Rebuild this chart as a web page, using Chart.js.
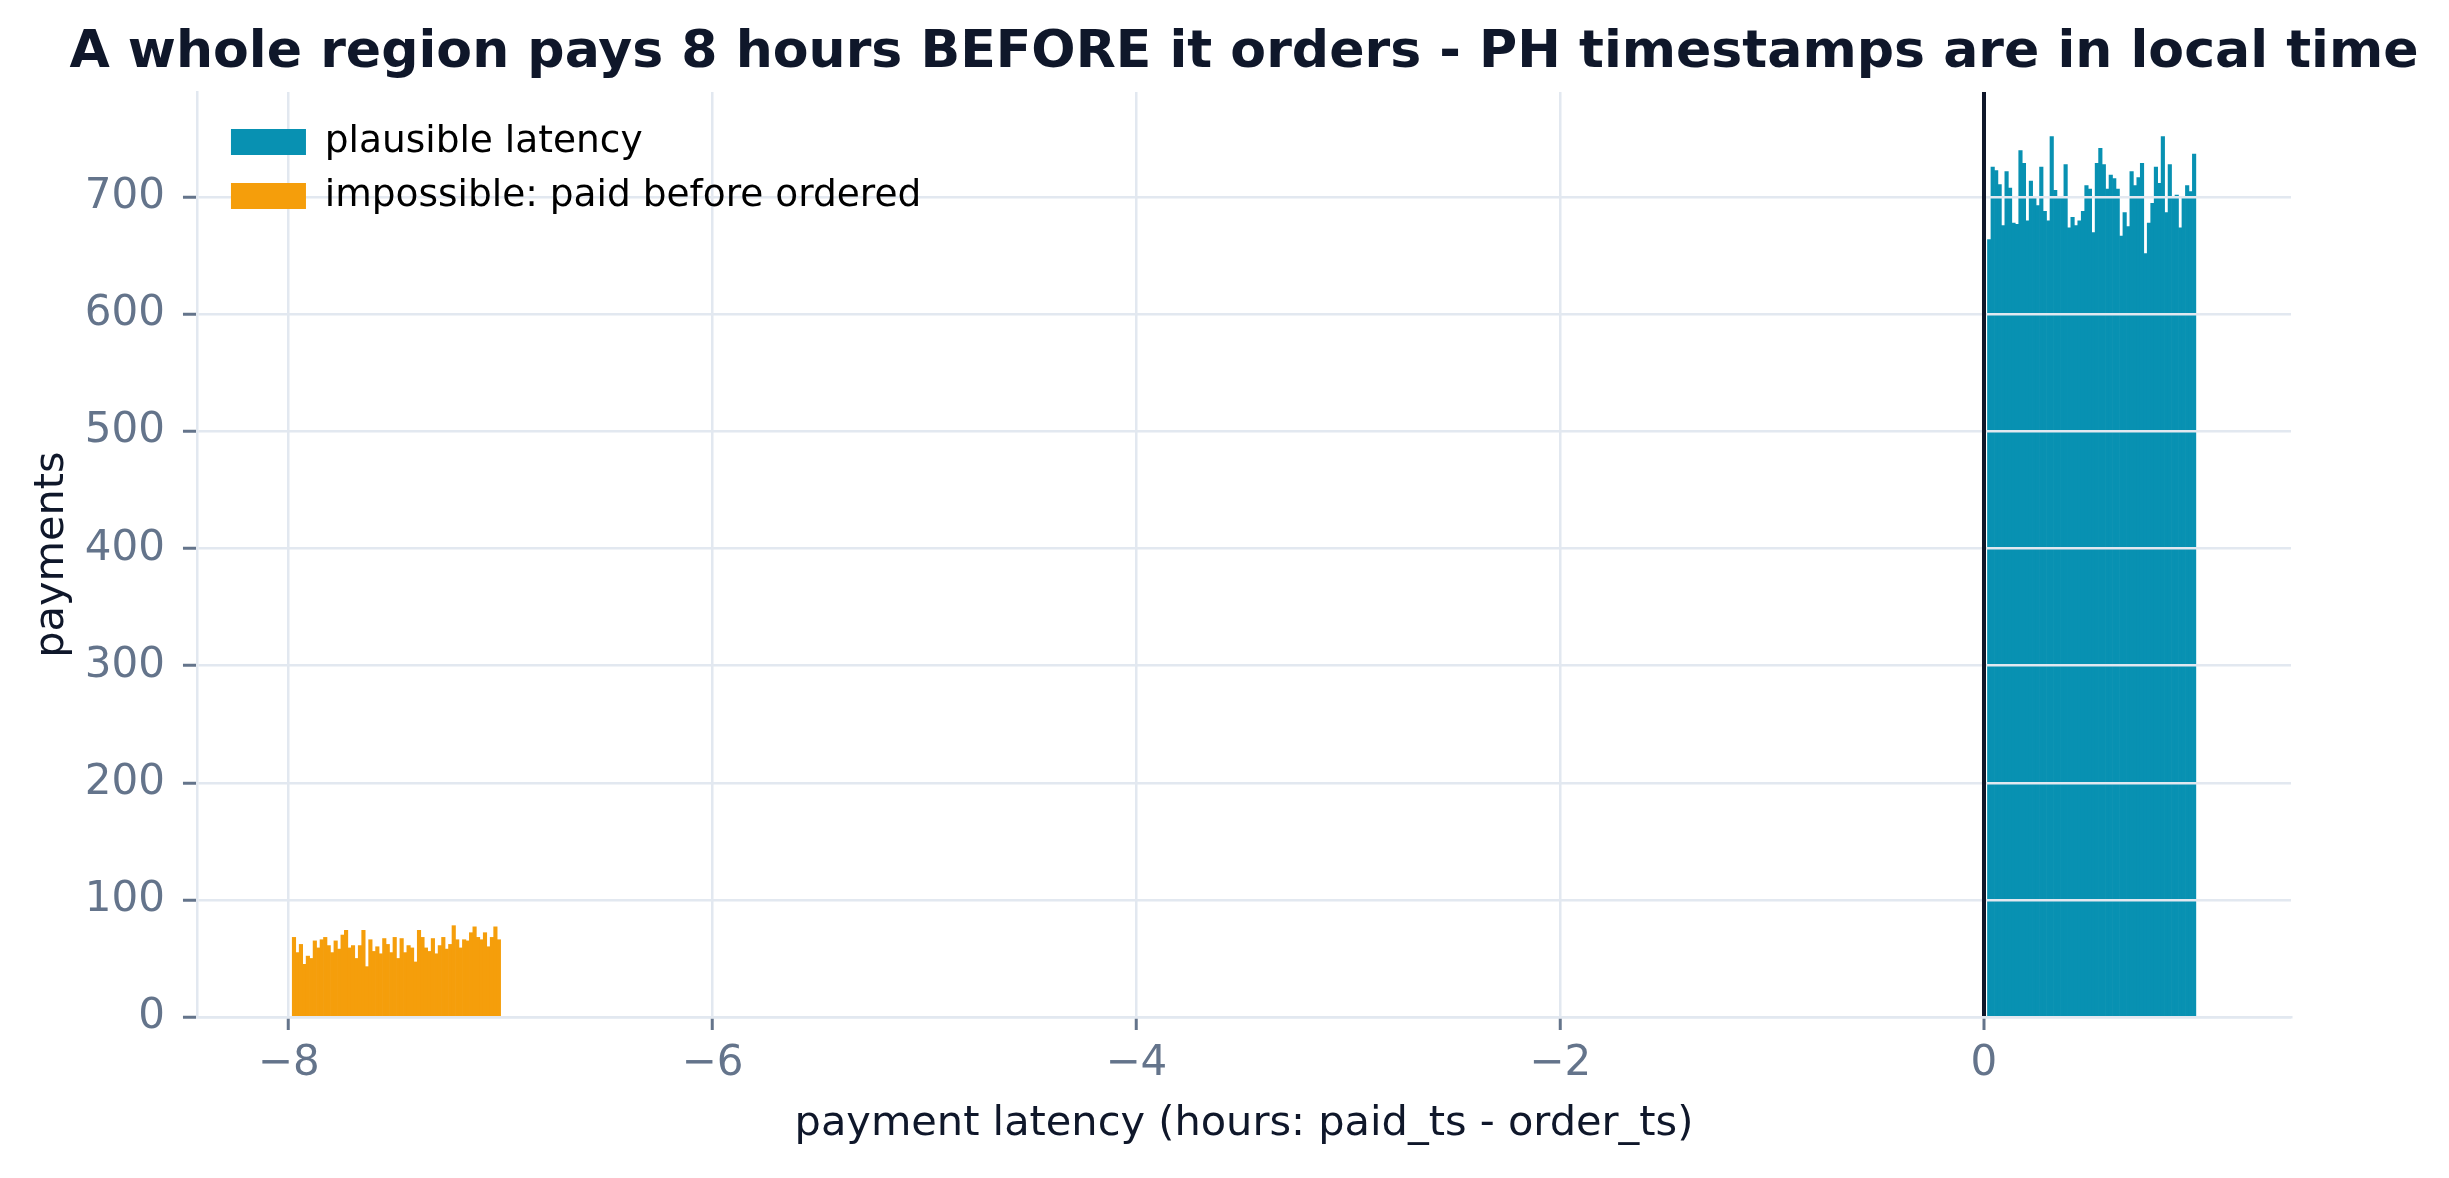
<!DOCTYPE html>
<html lang="en">
<head>
<meta charset="UTF-8">
<title>Payment latency histogram</title>
<script src="https://cdn.jsdelivr.net/npm/chart.js"></script>
<style>
  html, body { margin: 0; padding: 0; background: #ffffff; }
  #latencyChart { display: block; }
</style>
</head>
<body>
<canvas id="latencyChart" width="2449" height="1178"></canvas>
<script>
// payments per bin, 60 bins per hour of latency
const plausibleCounts = [
  664, 726, 723, 711, 676, 722, 708, 678, 677, 740,
  729, 680, 714, 700, 693, 726, 688, 680, 752, 706,
  700, 700, 728, 674, 683, 676, 680, 688, 710, 707,
  670, 729, 742, 728, 707, 719, 716, 707, 667, 687,
  675, 722, 710, 717, 729, 652, 678, 695, 726, 712,
  752, 687, 728, 700, 702, 674, 701, 710, 705, 737
];
const impossibleCounts = [
  68, 55, 62, 45, 52, 50, 65, 59, 66, 68,
  61, 55, 65, 58, 70, 74, 59, 61, 50, 61,
  74, 43, 66, 56, 60, 54, 67, 62, 55, 68,
  50, 67, 55, 61, 59, 47, 74, 68, 59, 56,
  67, 54, 61, 68, 58, 62, 78, 66, 59, 66,
  65, 72, 77, 68, 66, 72, 60, 68, 77, 66
];
// histogram ranges in hours (first bin begins at 1 minute)
const plausibleRange = [1 / 60, 1];
const impossibleRange = [-8 + 1 / 60, -7];
const xTicks = [-8, -6, -4, -2, 0];
const yTicks = [0, 100, 200, 300, 400, 500, 600, 700];
const xMin = -8.433, xMax = 1.449, yMax = 790;
const zeroLatency = 0;   // dark reference line

const FONT = 'DejaVu Sans';
const INK = '#0f172a';
const MUTED = '#64748b';
const GRID = '#e2e8f0';

function binPoints(range, counts) {
  const w = (range[1] - range[0]) / counts.length;
  return counts.map((c, i) => ({ x: range[0] + (i + 0.5) * w, y: c }));
}

function fmtTick(v) {
  return v < 0 ? '\u2212' + Math.abs(v) : String(v);
}

const isZero = c => c.tick && c.tick.value === zeroLatency;

// matplotlib puts the legend inside the axes (above the grid) and centres the title on the axes
const placement = {
  id: 'placement',
  beforeLayout(chart) {
    const lg = chart.legend;
    if (lg && !lg._onTop) {
      lg._onTop = true;
      lg._layers = () => [{ z: 3, draw: (area) => lg.draw(area) }];
    }
  },
  afterLayout(chart) {
    const ca = chart.chartArea;
    const lg = chart.legend;
    if (lg) {
      lg.left = ca.left + 17.5;
      lg.top = ca.top + 14.75;
      lg.right = ca.right;
      lg.bottom = ca.bottom;
    }
    const tb = chart.titleBlock;
    if (tb) {
      const c = (ca.left + ca.right) / 2;
      const half = Math.min(c, chart.width - c);
      tb.left = c - half;
      tb.right = c + half;
    }
  }
};

const ctx = document.getElementById('latencyChart').getContext('2d');
new Chart(ctx, {
  type: 'bar',
  data: {
    datasets: [
      {
        label: 'plausible latency',
        data: binPoints(plausibleRange, plausibleCounts),
        backgroundColor: '#0891b2',
        borderWidth: 0,
        categoryPercentage: 1,
        barPercentage: 1,
        grouped: false
      },
      {
        label: 'impossible: paid before ordered',
        data: binPoints(impossibleRange, impossibleCounts),
        backgroundColor: '#f59e0b',
        borderWidth: 0,
        categoryPercentage: 1,
        barPercentage: 1,
        grouped: false
      }
    ]
  },
  options: {
    responsive: false,
    animation: false,
    devicePixelRatio: 1,
    layout: { padding: { left: 0, right: 158, top: 0, bottom: 0 } },
    scales: {
      x: {
        type: 'linear',
        min: xMin,
        max: xMax,
        offset: false,
        afterBuildTicks: s => { s.ticks = xTicks.map(v => ({ value: v })); },
        grid: {
          offset: false,
          z: 2,
          color: c => isZero(c) ? INK : GRID,
          lineWidth: c => isZero(c) ? 4 : 2.5,
          tickColor: MUTED,
          tickWidth: 3,
          tickLength: 13
        },
        border: { color: GRID, width: 2.5, z: 2 },
        ticks: { color: MUTED, font: { family: FONT, size: 42 }, padding: 9.3, maxRotation: 0, callback: fmtTick },
        title: {
          display: true,
          text: 'payment latency (hours: paid_ts - order_ts)',
          color: INK,
          font: { family: FONT, size: 41.5 },
          padding: { top: 0.7, bottom: 28.5 }
        }
      },
      y: {
        min: 0,
        max: yMax,
        afterBuildTicks: s => { s.ticks = yTicks.map(v => ({ value: v })); },
        grid: { color: GRID, lineWidth: 2.5, tickColor: MUTED, tickWidth: 3, tickLength: 14, z: 1 },
        border: { color: GRID, width: 2.5, z: 1 },
        ticks: { color: MUTED, font: { family: FONT, size: 42 }, padding: 18 },
        title: {
          display: true,
          text: 'payments',
          color: INK,
          font: { family: FONT, size: 41.5 },
          padding: { top: 27.1, bottom: -10.1 }
        }
      }
    },
    plugins: {
      title: {
        display: true,
        text: 'A whole region pays 8 hours BEFORE it orders - PH timestamps are in local time',
        color: INK,
        font: { family: FONT, size: 52.1, weight: 'bold' },
        padding: { top: 22, bottom: 7.5 }
      },
      legend: {
        position: 'chartArea',
        align: 'start',
        labels: {
          boxWidth: 75,
          boxHeight: 26,
          padding: 16.5,
          color: '#000000',
          font: { family: FONT, size: 37.5 }
        }
      },
      tooltip: { enabled: false }
    }
  },
  plugins: [placement]
});
</script>
</body>
</html>
